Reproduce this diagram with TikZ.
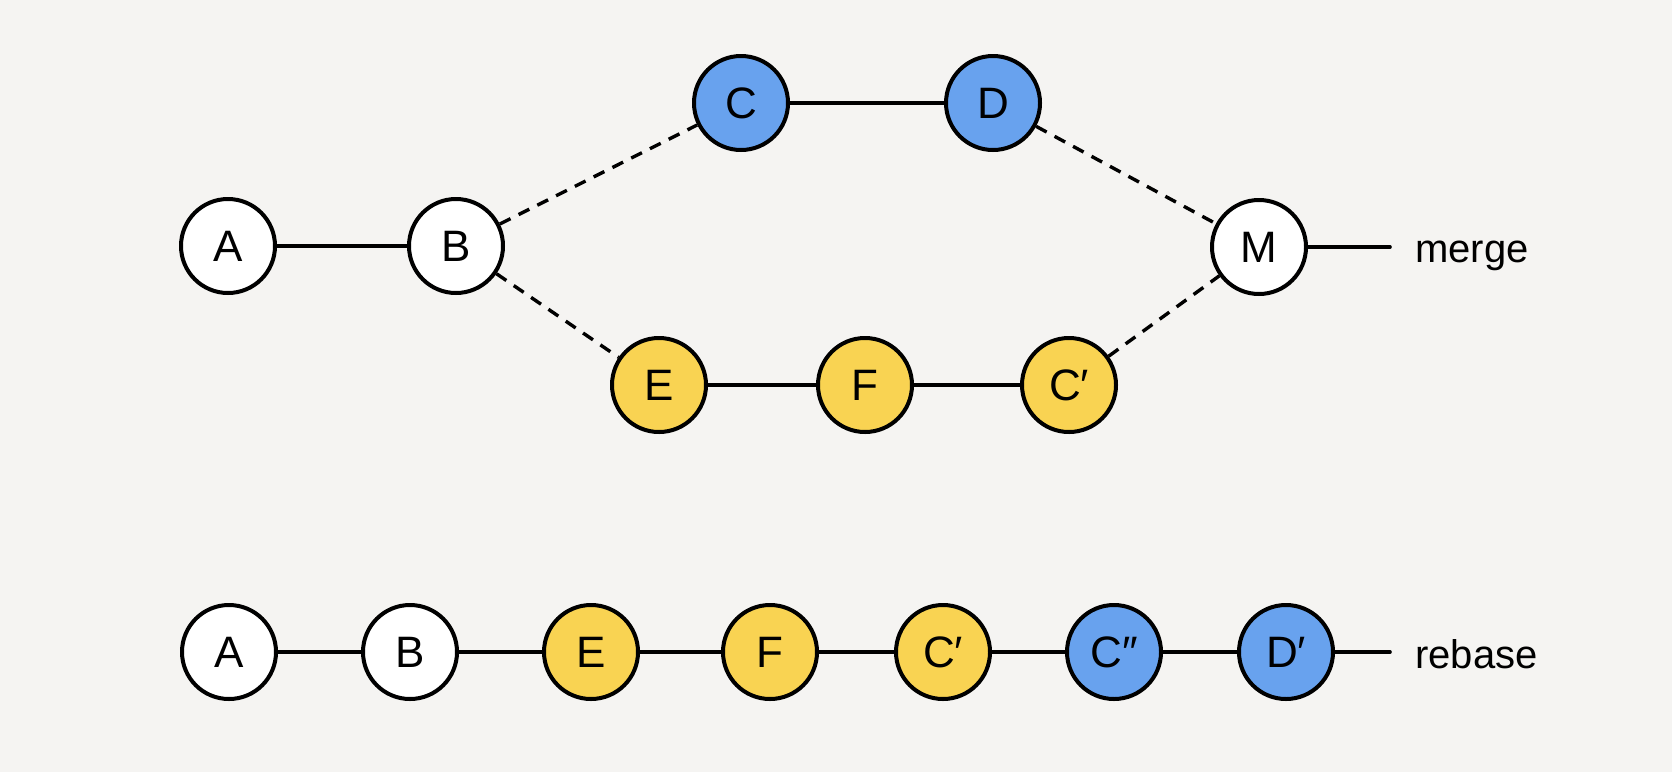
\documentclass[tikz,border=0pt]{standalone}
\usepackage{fontspec}
\setmainfont{Liberation Sans}
\usepackage{tikz}
\usetikzlibrary{positioning,calc}
\usepackage{xcolor}
\definecolor{gitblue}{RGB}{104,162,238}
\definecolor{gityellow}{RGB}{249,211,82}
\definecolor{gitbg}{RGB}{245,244,242}
\tikzstyle{commit} = [circle, draw=black, line width=4pt, minimum size=94pt, inner sep=0pt, fill=white, font=\fontsize{44}{44}\selectfont]
\tikzstyle{link} = [line width=3.6pt, color=black]
\tikzstyle{forklink} = [line width=3.4pt, color=black, dash pattern=on 12pt off 9pt]
\tikzstyle{branchlabel} = [anchor=base west, inner sep=0pt, font=\fontsize{40}{40}\selectfont]

\begin{document}
\begin{tikzpicture}[x=1pt, y=-1pt]
    % Background
    \fill[gitbg] (0,0) rectangle (1672,772);
    \useasboundingbox (0,0) rectangle (1672,772);

    % Merge history
    \node[commit] (ma) at (228, 246) {A};
    \node[commit] (mb) at (456, 246) {B};
    \node[commit, fill=gitblue] (mc) at (741, 103) {C};
    \node[commit, fill=gitblue] (md) at (993, 103) {D};
    \node[commit, fill=gityellow] (me) at (659, 385) {E};
    \node[commit, fill=gityellow] (mf) at (865, 385) {F};
    \node[commit, fill=gityellow] (mcp) at (1069, 385) {C′};
    \node[commit] (mm) at (1259, 247) {M};
    \coordinate (mergeend) at (1390, 247);
    \node[branchlabel] (mergelabel) at ([xshift=25pt, yshift=-15pt]mergeend) {merge};

    % Rebase history
    \node[commit] (ra) at (229, 652) {A};
    \node[commit] (rb) at (410, 652) {B};
    \node[commit, fill=gityellow] (re) at (591, 652) {E};
    \node[commit, fill=gityellow] (rf) at (770, 652) {F};
    \node[commit, fill=gityellow] (rcp) at (943, 652) {C′};
    \node[commit, fill=gitblue] (rcpp) at (1114, 652) {C″};
    \node[commit, fill=gitblue] (rdp) at (1286, 652) {D′};
    \coordinate (rebaseend) at (1390, 652);
    \node[branchlabel] (rebaselabel) at ([xshift=25pt, yshift=-16pt]rebaseend) {rebase};

    % Solid connections
    \draw[link] (ma) -- (mb);
    \draw[link] (mc) -- (md);
    \draw[link] (me) -- (mf);
    \draw[link] (mf) -- (mcp);
    \draw[link, line cap=round] (mm) -- (mergeend);
    \draw[link] (ra) -- (rb);
    \draw[link] (rb) -- (re);
    \draw[link] (re) -- (rf);
    \draw[link] (rf) -- (rcp);
    \draw[link] (rcp) -- (rcpp);
    \draw[link] (rcpp) -- (rdp);
    \draw[link, line cap=round] (rdp) -- (rebaseend);

    % Fork and join
    \draw[forklink] (mb) -- (mc);
    \draw[forklink] (mb) -- (me);
    \draw[forklink] (md) -- (mm);
    \draw[forklink] (mcp) -- (mm);
\end{tikzpicture}
\end{document}
